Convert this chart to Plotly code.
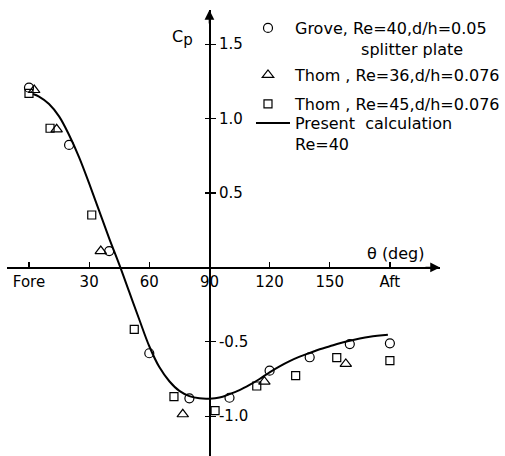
import plotly.graph_objects as go

# Pressure coefficient Cp around the body versus angle theta (deg)
theta_grove = [0, 20, 40, 60, 80, 100, 120, 140, 160, 180]
cp_grove = [1.208, 0.823, 0.110, -0.577, -0.880, -0.876, -0.694, -0.604, -0.515, -0.510]

theta_thom36 = [2.6, 13.8, 35.8, 76.7, 117.4, 158.0]
cp_thom36 = [1.192, 0.928, 0.110, -0.987, -0.768, -0.649]

theta_thom45 = [0, 10.5, 31.3, 52.5, 72.3, 92.8, 113.6, 133.0, 153.5, 180]
cp_thom45 = [1.170, 0.935, 0.352, -0.416, -0.869, -0.963, -0.797, -0.728, -0.607, -0.627]

theta_calc = [2, 5, 10, 15, 20, 25, 30, 35, 40, 45, 50, 55, 60, 65, 70, 75, 80, 85,
              90, 95, 100, 105, 110, 115, 120, 125, 130, 135, 140, 145, 150, 155,
              160, 165, 170, 175, 179]
cp_calc = [1.165, 1.148, 1.098, 1.015, 0.890, 0.740, 0.565, 0.380, 0.195, 0.020,
           -0.165, -0.350, -0.530, -0.670, -0.765, -0.830, -0.865, -0.880,
           -0.882, -0.875, -0.852, -0.825, -0.790, -0.750, -0.705, -0.665,
           -0.630, -0.600, -0.575, -0.550, -0.530, -0.510, -0.493, -0.478,
           -0.466, -0.458, -0.452]

x_tickvals = [0, 30, 60, 90, 120, 150, 180]
x_ticktext = ["Fore", "30", "60", "90", "120", "150", "Aft"]
y_tickvals = [1.5, 1.0, 0.5, -0.5, -1.0]
y_ticktext = ["1.5", "1.0", "0.5", "-0.5", "-1.0"]

name_grove = "Grove, Re=40,d/h=0.05<br>" + "\u00a0" * 13 + "splitter plate"
name_thom36 = "Thom , Re=36,d/h=0.076"
name_thom45 = "Thom , Re=45,d/h=0.076"
name_calc = "Present\u00a0 calculation<br>Re=40"

FONT = "DejaVu Sans"
X_RANGE = [-10.97, 204.99]
Y_RANGE = [-1.2675, 1.7298]
X_AXIS_POS = (0 - Y_RANGE[0]) / (Y_RANGE[1] - Y_RANGE[0])
Y_AXIS_POS = (90 - X_RANGE[0]) / (X_RANGE[1] - X_RANGE[0])

fig = go.Figure()

fig.add_trace(go.Scatter(
    x=theta_calc, y=cp_calc, mode="lines", name=name_calc,
    line=dict(color="black", width=2, shape="spline"),
    yaxis="y2", legend="legend4",
))
fig.add_trace(go.Scatter(
    x=theta_grove, y=cp_grove, mode="markers", name=name_grove,
    marker=dict(symbol="circle-open", size=9, color="black", line=dict(width=1.2)),
    legend="legend",
))
fig.add_trace(go.Scatter(
    x=theta_thom36, y=cp_thom36, mode="markers", name=name_thom36,
    marker=dict(symbol="triangle-up-open", size=10, color="black", line=dict(width=1.2)),
    legend="legend2",
))
fig.add_trace(go.Scatter(
    x=theta_thom45, y=cp_thom45, mode="markers", name=name_thom45,
    marker=dict(symbol="square-open", size=8, color="black", line=dict(width=1.2)),
    legend="legend3",
))

legend_font = dict(family=FONT, size=16, color="black")


def legend_box(x, y, itemwidth):
    return dict(x=x, y=y, xanchor="left", yanchor="top", itemwidth=itemwidth,
                valign="top", font=legend_font, bgcolor="rgba(0,0,0,0)",
                borderwidth=0, tracegroupgap=0)


fig.update_layout(
    width=505, height=456,
    margin=dict(l=7, r=65, t=10, b=0, autoexpand=False),
    paper_bgcolor="white", plot_bgcolor="white",
    showlegend=True,
    legend=legend_box(0.5404, 0.9977, 44),
    legend2=legend_box(0.5404, 0.8924, 44),
    legend3=legend_box(0.5404, 0.8273, 44),
    legend4=legend_box(0.5635, 0.7848, 34),
    xaxis=dict(
        range=X_RANGE, anchor="free", position=X_AXIS_POS, side="bottom",
        showline=True, linecolor="black", linewidth=1.5,
        ticks="inside", ticklen=5, tickwidth=1.2, tickcolor="black",
        tickvals=x_tickvals, ticktext=x_ticktext,
        tickfont=dict(family=FONT, size=15, color="black"),
        showgrid=False, zeroline=False, fixedrange=True,
    ),
    yaxis=dict(
        range=Y_RANGE, anchor="free", position=Y_AXIS_POS, side="right",
        showline=True, linecolor="black", linewidth=1.5,
        ticks="outside", ticklen=5, tickwidth=1.2, tickcolor="black",
        tickvals=y_tickvals, ticktext=y_ticktext,
        tickfont=dict(family=FONT, size=15, color="black"),
        showgrid=False, zeroline=False, fixedrange=True,
    ),
    yaxis2=dict(
        range=Y_RANGE, matches="y", overlaying="y", anchor="free",
        position=Y_AXIS_POS, side="right",
        ticks="inside", ticklen=4, tickwidth=1.2, tickcolor="black",
        tickvals=y_tickvals, showticklabels=False,
        showline=False, showgrid=False, zeroline=False, fixedrange=True,
    ),
    hovermode=False,
)

# arrowheads at the ends of both axes
fig.add_annotation(x=X_RANGE[1], y=0, ax=X_RANGE[1] - 8, ay=0,
                   xref="x", yref="y", axref="x", ayref="y", text="",
                   showarrow=True, arrowhead=2, arrowsize=1.3, arrowwidth=1.5,
                   arrowcolor="black", standoff=0)
fig.add_annotation(x=90, y=Y_RANGE[1], ax=90, ay=Y_RANGE[1] - 0.1,
                   xref="x", yref="y", axref="x", ayref="y", text="",
                   showarrow=True, arrowhead=2, arrowsize=1.3, arrowwidth=1.5,
                   arrowcolor="black", standoff=0)

# axis titles
fig.add_annotation(x=183, y=0.095, xref="x", yref="y", text="θ (deg)",
                   showarrow=False, font=dict(family=FONT, size=16, color="black"))
fig.add_annotation(x=76.5, y=1.545, xref="x", yref="y",
                   text="C<sub><span style='font-size:15px'>p</span></sub>",
                   showarrow=False, font=dict(family=FONT, size=16, color="black"))

fig.write_html("out.html", config={"displayModeBar": False, "staticPlot": True})
